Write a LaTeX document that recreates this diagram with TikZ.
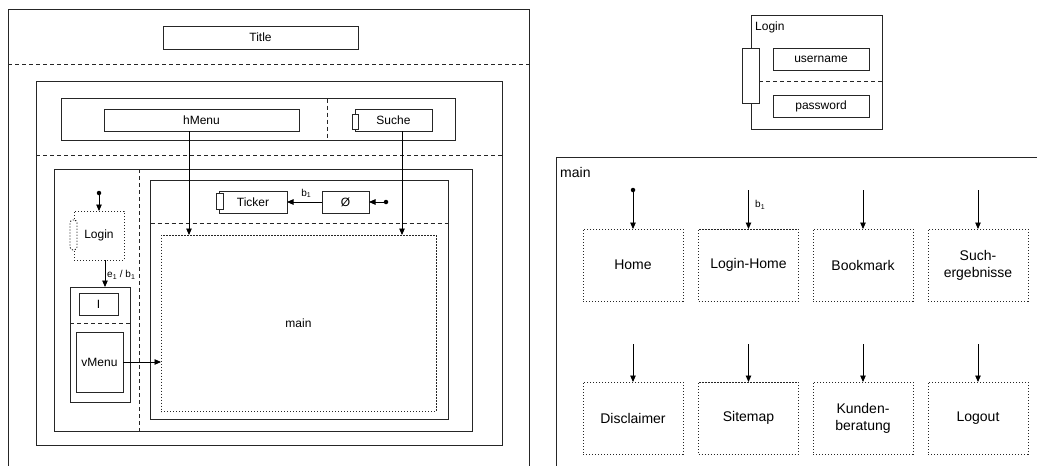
\documentclass[tikz,border=0pt]{standalone}
\usepackage{fontspec}
\setmainfont{Liberation Sans}
\usetikzlibrary{arrows.meta}
\begin{document}
\begin{tikzpicture}[x=1pt,y=-1pt,
  ln/.style={draw=black!85, line width=0.9pt},
  box/.style={ln, rectangle, inner sep=0pt, outer sep=0pt, fill=white, align=center, font=\fontsize{12}{14}\selectfont},
  dbox/.style={box, dash pattern=on 1.2pt off 1.8pt},
  sbox/.style={dbox, font=\fontsize{14}{17}\selectfont, minimum width=100pt, minimum height=72pt},
  dsep/.style={ln, dash pattern=on 4pt off 3pt},
  arr/.style={draw=black, line width=0.9pt, -{Triangle[length=6.5pt,width=5.5pt]}},
  dot/.style={circle, fill=black, inner sep=0pt, minimum size=4.5pt},
  lbl/.style={inner sep=0pt, font=\fontsize{12}{14}\selectfont},
  slbl/.style={inner sep=0pt, font=\fontsize{10}{12}\selectfont}
]
\useasboundingbox (0,0) rectangle (1037,466);
% ---------- left page layout ----------
\draw[ln] (8,466) -- (8,9.5) -- (529,9.5) -- (529,466);
\draw[dsep] (8,64.5) -- (529,64.5);
\node[box, minimum width=195pt, minimum height=23pt] (title) at (260.5,37.5) {Title};
\node[box, minimum width=466pt, minimum height=364pt] (sec) at (269,263) {};
\draw[dsep] (36,155.5) -- (502,155.5);
\node[box, minimum width=394pt, minimum height=41.5pt] (head) at (258,119.25) {};
\draw[dsep] (327,98.5) -- (327,140);
\node[box, minimum width=195pt, minimum height=22pt] (hm) at (201.5,120) {hMenu};
\node[box, minimum width=77pt, minimum height=22pt] (su) at (393.5,120) {Suche};
\node[box, minimum width=6pt, minimum height=15pt] (sup) at (355,121.5) {};
\node[box, minimum width=418pt, minimum height=262pt] (cont) at (263,300) {};
\draw[dsep] (139,169) -- (139,431);
% left column
\node[dot] (i1) at (99,193) {};
\node[dbox, minimum width=50pt, minimum height=49pt] (lgn) at (99,235.5) {Login};
\node[dbox, rounded corners=3pt, minimum width=7pt, minimum height=30pt] (lgnp) at (73.5,235) {};
\node[box, minimum width=60pt, minimum height=115pt] (vcol) at (100,344.5) {};
\draw[dsep] (70,323) -- (130,323);
\node[box, minimum width=39pt, minimum height=22pt] (ib) at (98.5,304) {I};
\node[box, minimum width=47pt, minimum height=60pt] (vm) at (99.5,362) {vMenu};
\draw[arr] (i1) -- (lgn.north);
\coordinate (c105) at (105,0);
\draw[arr] (lgn.south -| c105) -- (vcol.north -| c105);
\node[slbl, anchor=west] (e1) at (107,275) {e\textsubscript{1} / b\textsubscript{1}};
% right column
\node[box, minimum width=297.5pt, minimum height=239.5pt] (tc) at (299.25,299.75) {};
\draw[dsep] (150.5,223) -- (448,223);
\node[box, minimum width=68pt, minimum height=22pt] (tk) at (253,202) {Ticker};
\node[box, minimum width=7pt, minimum height=16pt] (tkp) at (219.5,201) {};
\node[box, minimum width=47pt, minimum height=22pt] (oe) at (345.5,202) {Ø};
\node[dot] (i2) at (386,202) {};
\draw[arr] (i2) -- (oe.east);
\draw[arr] (oe.west) -- node[slbl, above=4pt, pos=0.45] {b\textsubscript{1}} (tk.east);
\node[dbox, minimum width=275pt, minimum height=176.5pt] (mainl) at (298.5,323.25) {main};
\draw[arr] (vm.east) -- (mainl.west |- vm.east);
\coordinate (ch) at (189,0);
\coordinate (cs) at (402,0);
\draw[arr] (hm.south -| ch) -- (mainl.north -| ch);
\draw[arr] (su.south -| cs) -- (mainl.north -| cs);
% ---------- Login component ----------
\node[box, minimum width=131pt, minimum height=114pt] (lc) at (816.5,72) {};
\node[lbl, anchor=west] (lct) at (755,27) {Login};
\draw[dsep] (759,81) -- (882,81);
\node[box, minimum width=17pt, minimum height=55pt] (lcp) at (750.5,75.5) {};
\node[box, minimum width=96pt, minimum height=22pt] (un) at (821,59) {username};
\node[box, minimum width=96pt, minimum height=22pt] (pw) at (821,106) {password};
% ---------- main states ----------
\draw[ln] (556,466) -- (556,157) -- (1037,157);
\node[inner sep=0pt, anchor=west, font=\fontsize{14}{17}\selectfont] (mt) at (560,172) {main};
\node[sbox] (home) at (633,265) {Home};
\node[sbox] (lhome) at (748.5,265) {Login-Home};
\node[sbox] (bookm) at (863,265) {Bookmark};
\node[sbox] (such) at (978,265) {Such-\\ergebnisse};
\node[sbox] (discl) at (633,418) {Disclaimer};
\node[sbox] (sitem) at (748.5,418) {Sitemap};
\node[sbox] (kund) at (863,418) {Kunden-\\beratung};
\node[sbox] (logo) at (978,418) {Logout};
\node[dot] (i3) at (633,190) {};
\coordinate (a2) at (748.5,190);
\coordinate (a3) at (863,190);
\coordinate (a4) at (978,190);
\coordinate (b1) at (633,344);
\coordinate (b2) at (748.5,344);
\coordinate (b3) at (863,344);
\coordinate (b4) at (978,344);
\draw[arr] (i3) -- (home.north);
\draw[arr] (a2) -- (lhome.north);
\draw[arr] (a3) -- (bookm.north);
\draw[arr] (a4) -- (such.north);
\draw[arr] (b1) -- (discl.north);
\draw[arr] (b2) -- (sitem.north);
\draw[arr] (b3) -- (kund.north);
\draw[arr] (b4) -- (logo.north);
\node[slbl, anchor=west] (lb1) at (755,205) {b\textsubscript{1}};
\end{tikzpicture}
\end{document}
